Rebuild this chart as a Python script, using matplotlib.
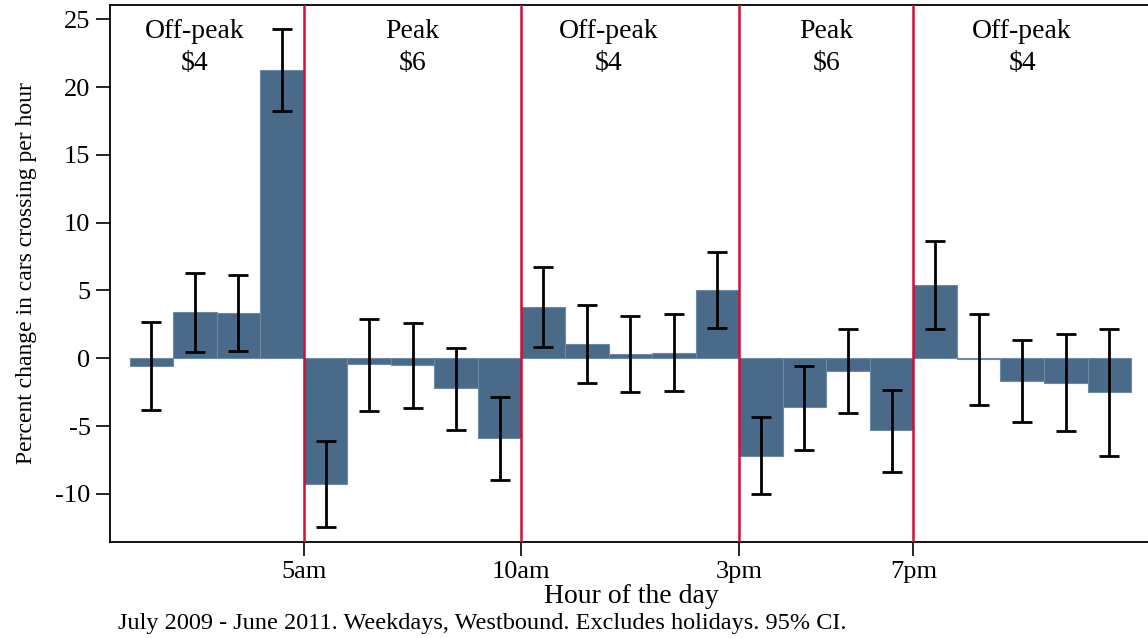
import matplotlib
matplotlib.use('Agg')
import matplotlib.pyplot as plt

# hourly effects: bar for hour h spans [h, h+1]
hours = list(range(1, 24))
pct_change = [-0.55, 3.39, 3.32, 21.24,
              -9.29, -0.44, -0.52, -2.21, -5.90,
              3.76, 1.03, 0.29, 0.41, 5.04,
              -7.18, -3.62, -0.94, -5.31,
              5.41, -0.07, -1.65, -1.80, -2.51]
ci_low = [-3.84, 0.49, 0.54, 18.24,
          -12.46, -3.89, -3.64, -5.31, -8.97,
          0.86, -1.80, -2.51, -2.39, 2.26,
          -10.03, -6.74, -4.01, -8.38,
          2.19, -3.47, -4.67, -5.38, -7.23]
ci_high = [2.68, 6.27, 6.17, 24.28,
           -6.08, 2.92, 2.60, 0.78, -2.83,
           6.71, 3.93, 3.14, 3.24, 7.82,
           -4.33, -0.54, 2.14, -2.31,
           8.63, 3.29, 1.33, 1.82, 2.16]

toll_changes = [5, 10, 15, 19]
tick_labels = ['5am', '10am', '3pm', '7pm']

period_x = [2.5, 7.5, 12, 17, 21.5]
period_names = ['Off-peak', 'Peak', 'Off-peak', 'Peak', 'Off-peak']
period_tolls = ['$4', '$6', '$4', '$6', '$4']

plt.rcParams['font.family'] = ['Liberation Serif', 'DejaVu Serif']
plt.rcParams['axes.unicode_minus'] = False

fig = plt.figure(figsize=(11.48, 6.38), dpi=100)
ax = fig.add_axes([0.0958, 0.151, 0.9084, 0.8412])

ax.bar(hours, pct_change, width=1.0, align='edge',
       color='#4a6a8a', edgecolor='#6f8aa5', linewidth=0.8, zorder=2)

mids = [h + 0.5 for h in hours]
yerr = [[p - lo for p, lo in zip(pct_change, ci_low)],
        [hi - p for p, hi in zip(pct_change, ci_high)]]
ax.errorbar(mids, pct_change, yerr=yerr, fmt='none', ecolor='black',
            elinewidth=2.0, capsize=7, capthick=2.0, zorder=3)

for x in toll_changes:
    ax.axvline(x, color='#d01038', linewidth=1.8, zorder=4)

for x, name, toll in zip(period_x, period_names, period_tolls):
    ax.text(x, 24.1, name, ha='center', va='center', fontsize=20)
    ax.text(x, 21.7, toll, ha='center', va='center', fontsize=20)

ax.set_xlim(0.55, 24.5)
ax.set_ylim(-13.52, 26.05)
ax.set_xticks(toll_changes)
ax.set_xticklabels(tick_labels)
ax.set_yticks([-10, -5, 0, 5, 10, 15, 20, 25])
ax.tick_params(axis='both', labelsize=19, length=10, width=1.2, direction='out')
ax.tick_params(axis='y', pad=4)
ax.tick_params(axis='x', pad=4)

for side in ['left', 'bottom', 'top', 'right']:
    ax.spines[side].set_linewidth(1.3)

ax.set_ylabel('Percent change in cars crossing per hour', fontsize=17, labelpad=13)
ax.set_xlabel('Hour of the day', fontsize=20, labelpad=1)

fig.text(118 / 1148, 1 - 624 / 638, 'July 2009 - June 2011. Weekdays, Westbound. Excludes holidays. 95% CI.',
         ha='left', va='center', fontsize=17.5)

fig.savefig('out.png', dpi=100)
